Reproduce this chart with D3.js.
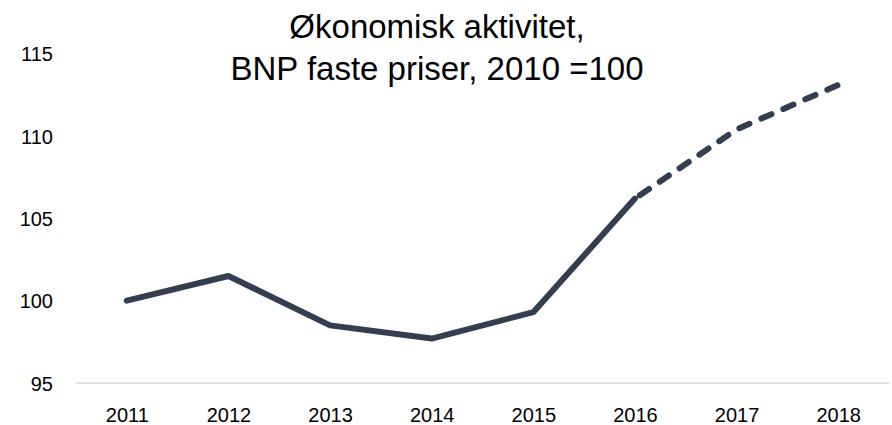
<!DOCTYPE html>
<html>
<head>
<meta charset="utf-8">
<script src="https://cdn.jsdelivr.net/npm/d3@7"></script>
<style>
  html, body { margin: 0; padding: 0; background: #fff; }
  svg { display: block; }
  text { font-family: "Liberation Sans", Arial, sans-serif; fill: #000; }
</style>
</head>
<body>
<svg id="chart" width="892" height="425"></svg>
<script>
const years = ["2011", "2012", "2013", "2014", "2015", "2016", "2017", "2018"];
const values = [100.0, 101.5, 98.5, 97.7, 99.3, 106.2, 110.4, 113.1];
const forecastFrom = "2016"; // dashed from this year on
const yTicks = [95, 100, 105, 110, 115];
const titleLines = ["Økonomisk aktivitet,", "BNP faste priser, 2010 =100"];

(function () {
const svg = d3.select("#chart");
const plotLeft = 76, plotRight = 889, plotTop = 53.7, plotBottom = 383;
const tickFont = '"Liberation Sans", Arial, sans-serif';

const x = d3.scalePoint().domain(years).range([plotLeft, plotRight]).padding(0.5);
const y = d3.scaleLinear().domain([95, 115]).range([plotBottom, plotTop]);

// x axis
const xAxis = d3.axisBottom(x).tickSize(0).tickPadding(0);
const gx = svg.append("g").attr("transform", `translate(0,${plotBottom})`).call(xAxis);
gx.select(".domain").attr("stroke", "#d9d9d9").attr("stroke-width", 1.5)
  .attr("d", `M${plotLeft},0H${plotRight}`);
gx.selectAll("text").attr("font-size", 20).attr("dy", null).attr("y", 39)
  .style("font-family", tickFont).attr("fill", "#000");

// y axis (labels only)
const yAxis = d3.axisLeft(y).tickValues(yTicks).tickSize(0).tickPadding(0);
const gy = svg.append("g").attr("transform", `translate(53,0)`).call(yAxis);
gy.select(".domain").remove();
gy.selectAll("text").attr("font-size", 20).attr("dy", "0.35em")
  .style("font-family", tickFont).attr("fill", "#000");

// line data
const data = years.map((yr, i) => ({ yr, v: values[i] }));
const fi = years.indexOf(forecastFrom);
const solid = data.slice(0, fi + 1);
const dashed = data.slice(fi);
const line = d3.line().x(d => x(d.yr)).y(d => y(d.v));
const color = "#333f50";

svg.append("path").datum(solid).attr("d", line)
  .attr("fill", "none").attr("stroke", color).attr("stroke-width", 6)
  .attr("stroke-linejoin", "round").attr("stroke-linecap", "round");
svg.append("path").datum(dashed).attr("d", line)
  .attr("fill", "none").attr("stroke", color).attr("stroke-width", 6)
  .attr("stroke-linejoin", "round").attr("stroke-linecap", "round")
  .attr("stroke-dasharray", "11,13").attr("stroke-dashoffset", -6);

// title
const title = svg.append("text").attr("text-anchor", "middle").attr("font-size", 33);
titleLines.forEach((t, i) => {
  title.append("tspan").attr("x", 437).attr("y", i === 0 ? 38 : 80).text(t);
});
})();
</script>
</body>
</html>
